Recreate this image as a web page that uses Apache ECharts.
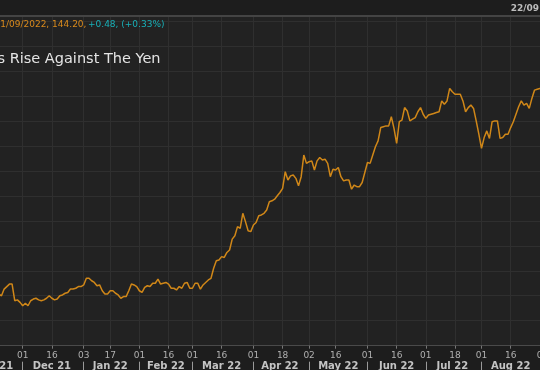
<!DOCTYPE html>
<html>
<head>
<meta charset="utf-8">
<script src="https://cdn.jsdelivr.net/npm/echarts@6/dist/echarts.min.js"></script>
<style>
html,body{margin:0;padding:0;background:#1d1d1d;overflow:hidden;width:540px;height:370px;position:relative;}
#chart{position:absolute;left:-36px;top:0;width:580px;height:370px;}
</style>
</head>
<body>
<div id="chart"></div>
<script>
// ---- data ----
const firstDate = '2021-11-01';
const lastDate = '2022-09-01';
// USD/JPY daily closes (one per weekday, from firstDate); null = not drawn
const closes = [
  null,null,null,null,null,null,null,null,null,null,null,null,null,
  // Nov 18 - Nov 30 2021
  114.2,114.0,114.8,115.1,115.4,115.4,113.4,113.5,113.2,
  // Dec 2021
  112.8,113.1,112.8,113.4,113.6,113.7,113.5,113.4,113.5,113.7,114.0,113.7,113.5,113.6,114.0,114.1,114.3,114.4,114.8,114.8,114.9,115.1,115.1,
  // Jan 2022
  115.3,116.1,116.1,115.8,115.6,115.2,115.3,114.6,114.2,114.2,114.6,114.6,114.3,114.1,113.7,113.9,113.9,114.6,115.4,115.3,115.1,
  // Feb 2022
  114.6,114.4,115.0,115.2,115.1,115.5,115.5,116.0,115.4,115.5,115.6,115.4,114.9,114.9,114.7,115.1,114.9,115.5,115.6,114.9,
  // Mar 2022
  114.9,115.5,115.5,114.8,115.3,115.6,115.9,116.1,117.3,118.2,118.3,118.7,118.6,119.2,119.5,120.8,121.2,122.3,122.1,123.9,122.9,121.8,121.7,
  // Apr 2022
  122.5,122.8,123.6,123.7,123.9,124.3,125.3,125.4,125.6,126.0,126.4,126.9,128.9,127.9,128.4,128.5,128.1,127.2,128.3,130.9,129.9,
  // May 2022
  130.1,130.2,129.1,130.2,130.6,130.3,130.4,129.9,128.3,129.2,129.1,129.4,128.3,127.8,127.9,127.9,126.8,127.3,127.1,127.1,127.6,128.8,
  // Jun 2022
  130.0,129.9,130.9,131.9,132.6,134.2,134.3,134.4,134.4,135.5,134.1,132.3,134.9,135.1,136.6,136.2,135.0,135.2,135.4,136.1,136.6,135.8,
  // Jul 2022
  135.3,135.7,135.8,135.9,136.0,136.1,137.4,137.0,137.4,138.9,138.5,138.2,138.2,138.2,137.4,136.1,136.6,136.9,136.5,135.0,133.4,
  // Aug 2022
  131.7,133.0,133.8,132.9,134.9,135.0,135.0,132.9,133.0,133.4,133.4,134.2,134.9,135.8,136.7,137.4,136.9,137.1,136.5,137.7,138.7,138.8,138.9,
  // Sep 1 2022
  139.2
];
// dates carrying a day-of-month tick label
const tickDates = ['2021-11-01','2021-11-16','2021-12-01','2021-12-16','2022-01-03','2022-01-17',
  '2022-02-01','2022-02-16','2022-03-01','2022-03-16','2022-04-01','2022-04-18','2022-05-02',
  '2022-05-16','2022-06-01','2022-06-16','2022-07-01','2022-07-18','2022-08-01','2022-08-16','2022-09-01'];
// month band labels (keyed by YYYY-MM)
const monthKeys = ['2021-11','2021-12','2022-01','2022-02','2022-03','2022-04','2022-05','2022-06','2022-07','2022-08'];
const monthLabels = ['Nov 21','Dec 21','Jan 22','Feb 22','Mar 22','Apr 22','May 22','Jun 22','Jul 22','Aug 22'];
const headerDate = '21/09/2022, 144.20,';
const headerChange = '+0.48, (+0.33%)';
const titleText = 's Rise Against The Yen';
const cornerDate = '22/09';

// ---- categories: weekdays ----
function weekdays(a, b) {
  const out = [];
  let d = new Date(a + 'T00:00:00Z');
  const e = new Date(b + 'T00:00:00Z');
  while (d <= e) {
    const w = d.getUTCDay();
    if (w !== 0 && w !== 6) out.push(d.toISOString().slice(0, 10));
    d = new Date(d.getTime() + 86400000);
  }
  return out;
}
const dates = weekdays(firstDate, lastDate);
const tickSet = new Set(tickDates);
const monthStart = new Set();
const monthMid = {};
monthKeys.forEach((k, m) => {
  const idx = [];
  dates.forEach((d, i) => { if (d.slice(0, 7) === k) idx.push(i); });
  if (idx.length) {
    monthStart.add(idx[0]);
    monthMid[idx[Math.floor(idx.length / 2)]] = monthLabels[m];
  }
});
monthStart.add(dates.indexOf('2022-09-01'));
const isTick = (i) => tickSet.has(dates[i]);

const OX = 36; // horizontal offset of the canvas inside the page
const chart = echarts.init(document.getElementById('chart'), null, {renderer: 'canvas'});
chart.setOption({
  backgroundColor: '#1d1d1d',
  animation: false,
  grid: {
    left: 0.36, right: 1.5, top: 16, bottom: 24.3,
    containLabel: false, outerBoundsMode: 'none',
    show: true, backgroundColor: '#222222', borderWidth: 0
  },
  xAxis: [{
    type: 'category', data: dates, boundaryGap: false, position: 'bottom',
    axisLine: {show: true, lineStyle: {color: '#4a4a4a', width: 1}},
    axisTick: {show: true, interval: (i) => isTick(i), length: 3, lineStyle: {color: '#777'}},
    axisLabel: {
      interval: (i) => isTick(i), margin: 5,
      formatter: (v) => v.slice(8, 10),
      color: '#b0b0b0', fontSize: 9, fontFamily: 'DejaVu Sans'
    },
    splitLine: {show: true, interval: (i) => isTick(i), lineStyle: {color: '#2f2f2f', width: 1}}
  }, {
    type: 'category', data: dates, boundaryGap: false, position: 'bottom', offset: 16,
    axisLine: {show: false},
    axisTick: {show: true, interval: (i) => monthStart.has(i), length: 9, lineStyle: {color: '#9a9a9a'}},
    axisLabel: {
      interval: (i) => monthMid[i] !== undefined, margin: 0,
      formatter: (v, i) => monthMid[i] || '',
      color: '#c4c4c4', fontSize: 10, fontWeight: 'bold', fontFamily: 'DejaVu Sans'
    },
    splitLine: {show: false}
  }],
  yAxis: {
    type: 'value', min: 108, max: 147.6, interval: 3, position: 'right',
    axisLine: {show: false}, axisTick: {show: false}, axisLabel: {show: false},
    splitLine: {show: true, lineStyle: {color: '#2f2f2f', width: 1}}
  },
  series: [{
    type: 'line', data: closes, xAxisIndex: 0, showSymbol: false, connectNulls: false,
    lineStyle: {color: '#d08718', width: 1.5}, itemStyle: {color: '#d08718'}
  }],
  graphic: [
    {type: 'line', shape: {x1: 0, y1: 16, x2: 580, y2: 16}, style: {stroke: '#444', lineWidth: 2}, z: 10},
    {type: 'text', x: 539 + OX, y: 8.5, style: {text: cornerDate, fill: '#bdbdbd', font: 'bold 9px "DejaVu Sans"', textAlign: 'right', textVerticalAlign: 'middle'}, z: 10},
    {type: 'text', x: -5.5 + OX, y: 24.5, style: {text: headerDate, fill: '#d98a1c', font: '9px "DejaVu Sans"', textAlign: 'left', textVerticalAlign: 'middle'}, z: 10},
    {type: 'text', x: 88 + OX, y: 24.5, style: {text: headerChange, fill: '#18b0b8', font: '9px "DejaVu Sans"', textAlign: 'left', textVerticalAlign: 'middle'}, z: 10},
    {type: 'text', x: -2.5 + OX, y: 59, style: {text: titleText, fill: '#e4e4e4', font: '14.5px "DejaVu Sans"', textAlign: 'left', textVerticalAlign: 'middle'}, z: 10}
  ]
});
</script>
</body>
</html>
